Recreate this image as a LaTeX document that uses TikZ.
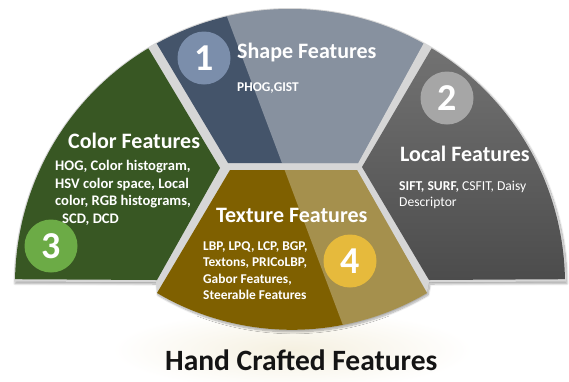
\documentclass[tikz,border=0pt]{standalone}
\usepackage{fontspec}
\setmainfont{Carlito}
\usetikzlibrary{calc,shadows.blur}
\definecolor{gapc}{RGB}{214,214,214}
\definecolor{shapec}{RGB}{68,84,106}
\definecolor{greenc}{RGB}{56,87,35}
\definecolor{texc}{RGB}{127,96,0}
\definecolor{loctop}{RGB}{114,114,114}
\definecolor{locbot}{RGB}{76,76,76}
\definecolor{cone}{RGB}{123,142,171}
\definecolor{ctwo}{RGB}{166,166,166}
\definecolor{cthree}{RGB}{108,171,70}
\definecolor{cfour}{RGB}{230,186,60}
\definecolor{glowc}{RGB}{245,240,224}
\definecolor{titlec}{RGB}{20,20,20}
\begin{document}
\begin{tikzpicture}[x=1pt,y=-1pt,
  ttl/.style={text=white,font=\fontsize{22}{25}\selectfont\bfseries,anchor=base west,inner sep=0},
  bdy/.style={text=white,font=\fontsize{14.6}{17}\selectfont\bfseries,anchor=base west,inner sep=0},
  bdys/.style={text=white,font=\fontsize{13.4}{16}\selectfont\bfseries,anchor=base west,inner sep=0},
  bdyr/.style={text=white,font=\fontsize{13.6}{16}\selectfont,anchor=base west,inner sep=0},
  num/.style={circle,minimum size=53pt,inner sep=0,text=white,font=\fontsize{38}{40}\selectfont\bfseries}]
\useasboundingbox (0,0) rectangle (569,381);
\coordinate (C) at (290,284);
% glow behind title
\shade[inner color=glowc,outer color=white] (292,350) ellipse [x radius=180, y radius=40];
% background (gaps) with shadow
\fill[gapc,blur shadow={shadow xshift=1pt,shadow yshift=-2pt,shadow blur steps=10,shadow opacity=35}]
  ($(C)+(-179.5:276)$) arc[start angle=-179.5,end angle=-0.5,radius=276]
  -- (429,282) -- (427,293) arc[start angle=59.5,end angle=120.5,radius=266] -- (156,282) -- cycle;
% segments
\def\shapepath{($(C)+(-119:275)$) arc[start angle=-119,end angle=-61,radius=275] -- (358,163) -- (228,163) -- cycle}
\def\texpath{(230,170) -- (357,170) -- (427,293) arc[start angle=59.5,end angle=120.5,radius=266] -- cycle}
\fill[greenc] ($(C)+(-179:275)$) arc[start angle=-179,end angle=-121,radius=275] -- (220,168) -- (157,280) -- cycle;
\fill[shapec] \shapepath;
\shade[top color=loctop,bottom color=locbot] ($(C)+(-59:275)$) arc[start angle=-59,end angle=-1,radius=275] -- (429,280) -- (362,167) -- cycle;
\fill[texc] \texpath;
% glossy overlay
\begin{scope}
  \clip \shapepath;
  \fill[white,opacity=0.36] (220.7,0) -- (356,360) -- (600,360) -- (600,0) -- cycle;
\end{scope}
\begin{scope}
  \clip \texpath;
  \fill[white,opacity=0.3] (220.7,0) -- (356,360) -- (600,360) -- (600,0) -- cycle;
\end{scope}
% numbered circles
\node[num,fill=cone] (n1) at (204,58) {1};
\node[num,fill=ctwo] (n2) at (447,98) {2};
\node[num,fill=cthree] (n3) at (51,246) {3};
\node[num,fill=cfour] (n4) at (350,261) {4};
% shape features
\node[ttl] (t1) at (237,58) {Shape Features};
\node[bdys] (b1) at (237,91) {PHOG,GIST};
% color features
\node[ttl] (t3) at (68,148) {Color Features};
\node[bdy] (b3a) at (55,170) {HOG, Color histogram,};
\node[bdy] (b3b) at (55,188) {HSV color space, Local};
\node[bdy] (b3c) at (55,205.5) {color, RGB histograms,};
\node[bdy] (b3d) at (62,223) {SCD, DCD};
% local features
\node[ttl] (t2) at (400,161) {Local Features};
\node[bdyr] (b2a) at (399,190) {\textbf{SIFT, SURF,} CSFIT, Daisy};
\node[bdyr] (b2b) at (399,206) {Descriptor};
% texture features
\node[ttl] (t4) at (216,222) {Texture Features};
\node[bdys] (b4a) at (203,250) {LBP, LPQ, LCP, BGP,};
\node[bdys] (b4b) at (203,266.7) {Textons, PRICoLBP,};
\node[bdys] (b4c) at (203,283) {Gabor Features,};
\node[bdys] (b4d) at (203,299) {Steerable Features};
% title
\node[text=titlec,font=\fontsize{29.5}{32}\selectfont\bfseries,anchor=base west,inner sep=0] (title) at (165,370) {Hand Crafted Features};
\end{tikzpicture}
\end{document}
